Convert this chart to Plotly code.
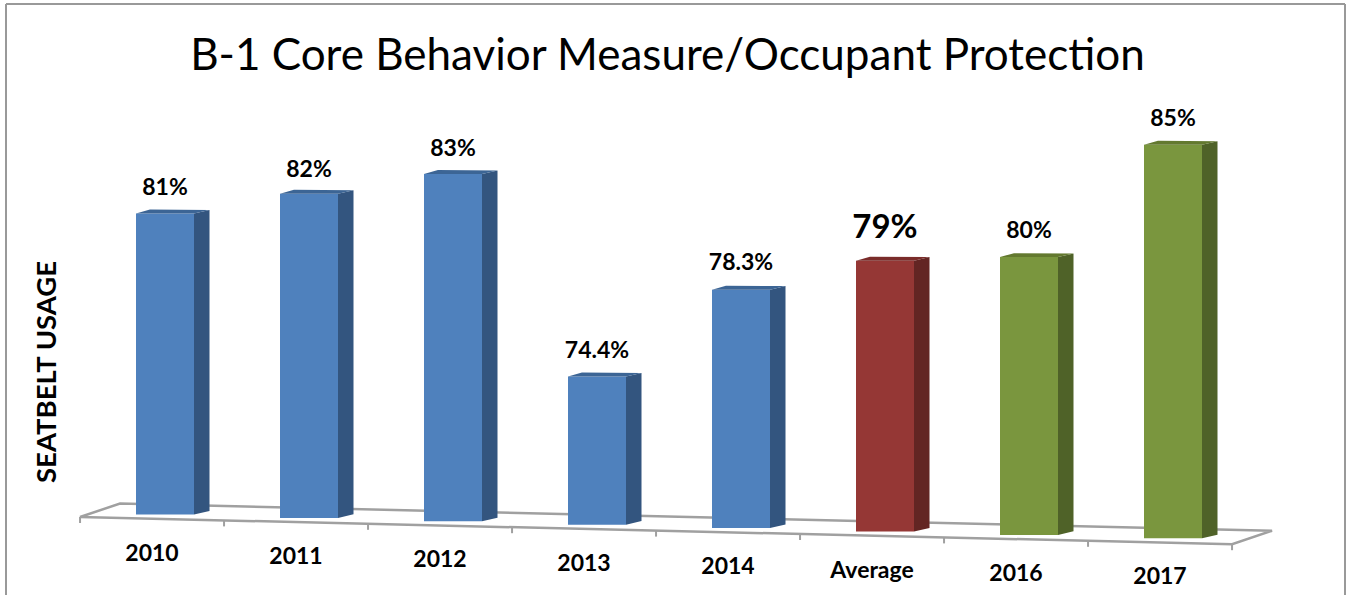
import plotly.graph_objects as go

categories = ["2010", "2011", "2012", "2013", "2014", "Average", "2016", "2017"]
values = [81, 82, 83, 74.4, 78.3, 79.7, 80, 85]
value_labels = ["81%", "82%", "83%", "74.4%", "78.3%", "79%", "80%", "85%"]
front_colors = ["#4f81bd"] * 5 + ["#953735"] + ["#7a963e"] * 2
side_colors = ["#33557f"] * 5 + ["#632523"] + ["#4f6228"] * 2
top_colors = ["#3c6595"] * 5 + ["#7a2c2a"] + ["#63792f"] * 2
label_sizes = [23, 23, 23, 23, 23, 33, 23, 23]
label_gaps = [1.03, 0.99, 1.03, 1.07, 1.1, 1.32, 1.07, 1.05]
category_sizes = [23, 23, 23, 23, 23, 23, 23, 23]

W, H = 1346, 595
PX_PER_CAT, PX_PER_PCT = 144.0, 23.15
X0_PX, FLOOR0_PX, FLOOR_VALUE = 165.0, 514.5, 68.0
TILT = 3.4 / PX_PER_PCT
BAR_W = 58 / PX_PER_CAT
DX, DY = 15.5 / PX_PER_CAT, 3.6 / PX_PER_PCT
GRAY = "#a0a0a0"

n = len(categories)
xs = list(range(n))
bases = [FLOOR_VALUE - TILT * i for i in xs]
heights = [v - FLOOR_VALUE for v in values]
tops = [b + h for b, h in zip(bases, heights)]

fig = go.Figure()

fig.add_trace(go.Bar(x=xs, y=heights, base=bases, width=BAR_W,
                     marker=dict(color=front_colors, line=dict(width=0)),
                     hoverinfo="skip", showlegend=False))

for i in xs:
    l, r = i - BAR_W / 2, i + BAR_W / 2
    fig.add_trace(go.Scatter(
        x=[r, r + DX, r + DX, r, r],
        y=[tops[i], tops[i] + DY, bases[i] + DY, bases[i], tops[i]],
        fill="toself", fillcolor=side_colors[i], mode="lines", line=dict(width=0),
        hoverinfo="skip", showlegend=False))
    fig.add_trace(go.Scatter(
        x=[l, l + DX * 0.9, r + DX, r, l],
        y=[tops[i], tops[i] + DY * 1.1, tops[i] + DY, tops[i], tops[i]],
        fill="toself", fillcolor=top_colors[i], mode="lines", line=dict(width=0),
        hoverinfo="skip", showlegend=False))

fig.add_trace(go.Scatter(
    x=xs, y=[t + g for t, g in zip(tops, label_gaps)], mode="text",
    text=value_labels, textposition="middle center",
    textfont=dict(family="Lato", size=label_sizes, color="#000000", weight="bold"),
    hoverinfo="skip", showlegend=False))

fig.add_trace(go.Scatter(
    x=[i - 0.09 for i in xs], y=[b - 1.74 for b in bases], mode="text",
    text=categories, textposition="middle center",
    textfont=dict(family="Lato", size=category_sizes, color="#000000", weight="bold"),
    hoverinfo="skip", showlegend=False))

# Tilted floor, behind the bars
FL_X, FR_X = -0.59, 7.41
FL_Y = FLOOR_VALUE - 2.5 / PX_PER_PCT
FR_Y = FL_Y - TILT * 8
BACK_DX, BACK_DY = 40 / PX_PER_CAT, 13.5 / PX_PER_PCT
floor_path = (f"M {FL_X},{FL_Y} L {FL_X + BACK_DX},{FL_Y + BACK_DY} "
              f"L {FR_X + BACK_DX},{FR_Y + BACK_DY} L {FR_X},{FR_Y} Z")
shapes = [dict(type="path", path=floor_path, xref="x", yref="y", layer="below",
               line=dict(color=GRAY, width=2.5), fillcolor="#ffffff")]
for k in range(n + 1):
    tx = FL_X + k
    ty = FL_Y - TILT * k
    shapes.append(dict(type="line", xref="x", yref="y", layer="below",
                       x0=tx, x1=tx, y0=ty, y1=ty - 6 / PX_PER_PCT,
                       line=dict(color=GRAY, width=2)))

# Outer frame of the picture
for x0, y0, x1, y1 in [(6, 4, 1345, 4), (6, 4, 6, 595), (1345, 4, 1345, 595)]:
    shapes.append(dict(type="line", xref="paper", yref="paper",
                       x0=x0 / W, x1=x1 / W, y0=1 - y0 / H, y1=1 - y1 / H,
                       line=dict(color="#999999", width=2)))

fig.update_layout(
    width=W, height=H, margin=dict(l=0, r=0, t=0, b=0, autoexpand=False),
    paper_bgcolor="#ffffff", plot_bgcolor="#ffffff", showlegend=False,
    title=dict(text="B-1 Core Behavior Measure/Occupant Protection",
               x=667.5 / W, xanchor="center", y=1 - 55 / H, yanchor="middle",
               font=dict(family="Lato", size=44, color="#000000")),
    xaxis=dict(range=[-X0_PX / PX_PER_CAT, (W - X0_PX) / PX_PER_CAT], visible=False, fixedrange=True),
    yaxis=dict(range=[FLOOR_VALUE - (H - FLOOR0_PX) / PX_PER_PCT, FLOOR_VALUE + FLOOR0_PX / PX_PER_PCT],
               visible=False, fixedrange=True),
    shapes=shapes,
    annotations=[dict(text="<b>SEATBELT USAGE</b>", textangle=-90, showarrow=False,
                      xref="paper", yref="paper", x=45 / W, y=1 - 372 / H,
                      xanchor="center", yanchor="middle",
                      font=dict(family="Lato", size=27.5, color="#000000"))],
)

fig.write_html("out.html", config=dict(displayModeBar=False),
               post_script="document.body.style.margin='0';document.documentElement.style.overflow='hidden';")
